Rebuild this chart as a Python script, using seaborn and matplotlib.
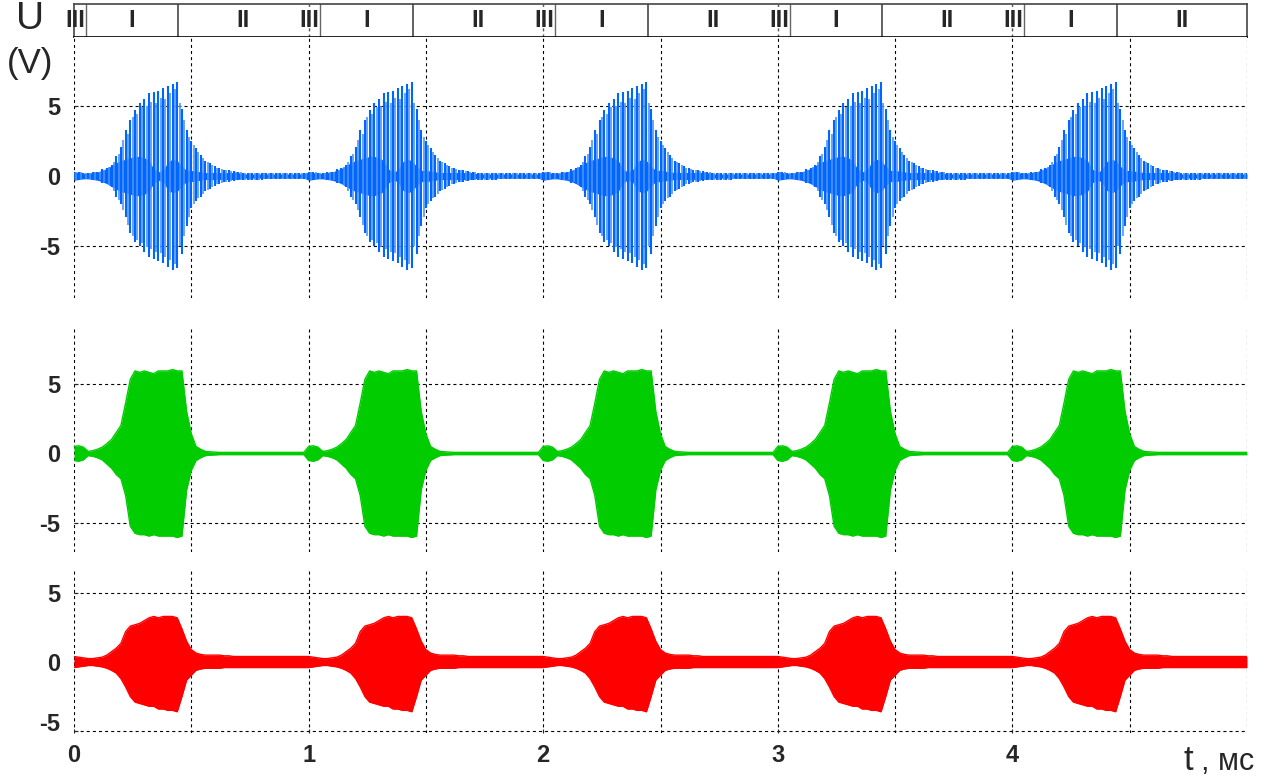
import numpy as np
import matplotlib
matplotlib.use("Agg")
import matplotlib.pyplot as plt
import matplotlib.transforms as mtrans
import seaborn as sns

step_ms = 0.02
burst_starts = [0, 1, 2, 3, 4]

blue_hi = [0.3, 0.3, 0.2, 0.2, 0.3, 0.3, 0.5, 0.55, 0.8, 1.4,
           2.1, 3.3, 4.0, 4.7, 5.2, 5.5, 5.9, 6.0, 6.1, 6.3,
           6.4, 6.6, 6.7, 4.8, 3.3, 2.5, 2.0, 1.5, 1.1, 0.9,
           0.7, 0.55, 0.45, 0.4, 0.35, 0.3, 0.25, 0.25, 0.25, 0.25,
           0.25, 0.2, 0.2, 0.2, 0.2, 0.2, 0.2, 0.2, 0.2, 0.2]
blue_lo = [0.3, 0.3, 0.2, 0.2, 0.3, 0.3, 0.5, 0.5, 0.8, 1.5,
           2.0, 2.9, 4.1, 4.7, 5.0, 5.4, 5.8, 5.9, 6.1, 6.2,
           6.5, 6.7, 6.6, 5.6, 3.6, 2.3, 1.8, 1.5, 1.1, 0.9,
           0.7, 0.55, 0.45, 0.4, 0.35, 0.3, 0.25, 0.25, 0.25, 0.25,
           0.25, 0.2, 0.2, 0.2, 0.2, 0.2, 0.2, 0.2, 0.2, 0.2]
# the fainter spikes that sit between the sampled ones (0.01 ms later)
blue_mid_hi = [0.3, 0.3, 0.2, 0.2, 0.3, 0.3, 0.45, 0.65, 1.0, 1.6,
               2.6, 3.0, 4.2, 4.4, 4.9, 5.0, 5.3, 5.2, 5.6, 5.5,
               5.9, 6.2, 5.2, 4.0, 2.8, 2.2, 1.7, 1.3, 1.0, 0.8,
               0.6, 0.5, 0.4, 0.35, 0.3, 0.3, 0.25, 0.25, 0.25, 0.25,
               0.2, 0.2, 0.2, 0.2, 0.2, 0.2, 0.2, 0.2, 0.2, 0.2]
blue_mid_lo = [0.3, 0.3, 0.2, 0.2, 0.3, 0.3, 0.45, 0.65, 1.1, 1.7,
               2.4, 3.5, 4.3, 4.6, 4.8, 5.1, 5.2, 5.4, 5.5, 5.8,
               6.0, 6.3, 5.0, 4.3, 2.9, 2.0, 1.6, 1.3, 1.0, 0.8,
               0.6, 0.5, 0.4, 0.35, 0.3, 0.3, 0.25, 0.25, 0.25, 0.25,
               0.2, 0.2, 0.2, 0.2, 0.2, 0.2, 0.2, 0.2, 0.2, 0.2]
blue_core = [0.3, 0.25, 0.2, 0.2, 0.25, 0.3, 0.4, 0.55, 0.75, 0.95,
             1.1, 1.2, 1.3, 1.4, 1.4, 1.3, 1.1, 0.5, 0.3, 0.4,
             1.0, 1.2, 1.1, 0.7, 0.4, 0.4, 0.35, 0.3, 0.25, 0.25,
             0.25, 0.25, 0.25, 0.25, 0.25, 0.25, 0.15, 0.15, 0.15, 0.15,
             0.15, 0.15, 0.15, 0.15, 0.15, 0.15, 0.15, 0.15, 0.15, 0.15]

green_hi = [0.5, 0.55, 0.45, 0.15, 0.2, 0.3, 0.45, 0.7, 1.0, 1.5,
            2.0, 3.6, 5.3, 5.9, 5.8, 5.9, 5.8, 5.7, 5.9, 5.9,
            5.9, 6.0, 5.9, 5.9, 3.0, 1.4, 0.5, 0.3, 0.15, 0.12,
            0.1, 0.08, 0.08, 0.08, 0.08, 0.08, 0.08, 0.08, 0.08, 0.08,
            0.08, 0.08, 0.08, 0.08, 0.08, 0.08, 0.08, 0.08, 0.08, 0.08]
green_lo = [0.5, 0.55, 0.45, 0.15, 0.2, 0.3, 0.45, 0.75, 1.05, 1.5,
            1.8, 3.0, 5.2, 5.7, 5.8, 5.8, 5.9, 5.8, 5.9, 5.9,
            5.9, 5.9, 6.0, 5.9, 2.6, 1.2, 0.5, 0.3, 0.15, 0.12,
            0.1, 0.08, 0.08, 0.08, 0.08, 0.08, 0.08, 0.08, 0.08, 0.08,
            0.08, 0.08, 0.08, 0.08, 0.08, 0.08, 0.08, 0.08, 0.08, 0.08]

red_hi = [0.4, 0.35, 0.3, 0.25, 0.25, 0.3, 0.35, 0.5, 0.75, 1.0,
          1.35, 2.2, 2.6, 2.7, 2.8, 3.0, 3.2, 3.3, 3.2, 3.3,
          3.3, 3.3, 3.2, 2.4, 1.5, 0.9, 0.65, 0.55, 0.5, 0.5,
          0.5, 0.5, 0.45, 0.45, 0.4, 0.4, 0.4, 0.4, 0.4, 0.4,
          0.4, 0.4, 0.4, 0.4, 0.4, 0.4, 0.4, 0.4, 0.4, 0.4]
red_lo = [0.4, 0.35, 0.3, 0.25, 0.25, 0.3, 0.35, 0.45, 0.6, 0.8,
          1.2, 1.8, 2.5, 2.9, 3.0, 3.1, 3.2, 3.2, 3.4, 3.4,
          3.5, 3.5, 3.6, 2.5, 1.3, 0.95, 0.6, 0.5, 0.45, 0.45,
          0.45, 0.45, 0.4, 0.4, 0.4, 0.4, 0.4, 0.4, 0.4, 0.4,
          0.4, 0.4, 0.4, 0.4, 0.4, 0.4, 0.4, 0.4, 0.4, 0.4]

# phase boundaries inside one period (ms) and their labels
phase_bounds = [0.0, 0.05, 0.445, 1.0]
phase_names = ["III", "I", "II"]

x_ticks = [0, 1, 2, 3, 4]
y_ticks = [-5, 0, 5]

sns.set_style("white")
plt.rcParams["font.family"] = ["Liberation Sans", "DejaVu Sans"]
plt.rcParams["lines.scale_dashes"] = False

BLUE = "#0066ff"
LIGHT_BLUE = "#4d94ff"
GREEN = "#00cc00"
RED = "#ff0000"
DASH = (0, (2.2, 2.2))

t_one = np.arange(len(blue_hi)) * step_ms


def tile(vals, shift=0.0):
    t = np.concatenate([s + shift + t_one for s in burst_starts] + [[5.0]])
    v = np.concatenate([np.asarray(vals, float)] * len(burst_starts) + [[vals[-1]]])
    return t, v


W, H = 1276, 778
fig = plt.figure(figsize=(W / 100, H / 100), dpi=100)


def px_axes(top, bottom):
    return fig.add_axes([74 / W, 1 - bottom / H, 1173 / W, (bottom - top) / H])


strip = px_axes(4, 37)
ax1 = px_axes(37, 298)
ax2 = px_axes(327, 552)
ax3 = px_axes(568, 733)

ax1.set_ylim(-8.71, 9.93)
ax2.set_ylim(-7.04, 9.04)
ax3.set_ylim(-5.14, 6.81)

for ax in (ax1, ax2, ax3):
    ax.set_xlim(0, 5)
    for s in ax.spines.values():
        s.set_visible(False)
    for y in y_ticks:
        ax.axhline(y, color="k", lw=0.8, ls=DASH, zorder=0)
    for x in np.arange(0, 5.01, 0.5):
        ax.axvline(x, color="k", lw=0.8, ls=DASH, zorder=0)
    ax.set_yticks(y_ticks)
    ax.set_yticklabels([str(v) for v in y_ticks], fontsize=17, fontweight="bold")
    ax.tick_params(axis="y", direction="in", length=3, width=0.8, pad=10, left=True)
    ax.set_xticks([])
    ax.grid(False)

# blue channel: spikes over a dense core
t, hi = tile(blue_hi)
_, lo = tile(blue_lo)
_, core = tile(blue_core)
tm, mhi = tile(blue_mid_hi, 0.01)
_, mlo = tile(blue_mid_lo, 0.01)
ax1.fill_between(t, -core, core, color=BLUE, lw=0, zorder=2)
ax1.vlines(tm[:-1], -mlo[:-1], mhi[:-1], color=LIGHT_BLUE, lw=1.2, zorder=3)
ax1.vlines(t, -lo, hi, color=BLUE, lw=1.5, zorder=4)

# green and red channels: filled envelopes
for ax, hi_vals, lo_vals, col in ((ax2, green_hi, green_lo, GREEN), (ax3, red_hi, red_lo, RED)):
    t, hi = tile(hi_vals)
    _, lo = tile(lo_vals)
    ax.fill_between(t, -lo, hi, color=col, lw=0, zorder=2)
    sns.lineplot(x=t, y=hi, ax=ax, color=col, lw=1.0, estimator=None, sort=False, zorder=3)
    sns.lineplot(x=t, y=-lo, ax=ax, color=col, lw=1.0, estimator=None, sort=False, zorder=3)

for ax in (ax1, ax2, ax3):
    ax.set_ylabel("")

# x axis on the bottom panel
ax3.set_xticks(x_ticks)
ax3.set_xticklabels([str(v) for v in x_ticks], fontsize=17, fontweight="bold")
ax3.tick_params(axis="x", direction="in", length=3, width=0.8, pad=8, bottom=True)
lab = ax3.get_yticklabels()[0]
lab.set_transform(lab.get_transform() + mtrans.ScaledTranslation(0, 9 / 100, fig.dpi_scale_trans))

# phase strip on top
strip.set_xlim(0, 5)
strip.set_ylim(0, 1)
strip.set_xticks([])
strip.set_yticks([])
for s in strip.spines.values():
    s.set_color("#444444")
    s.set_linewidth(1.2)
strip.spines["bottom"].set_color("black")
for k in burst_starts:
    if k > 0:
        strip.axvline(k + phase_bounds[0], color="#555555", lw=1.0, ls=DASH)
    strip.axvline(k + phase_bounds[1], color="#666666", lw=1.0)
    strip.axvline(k + phase_bounds[2], color="#555555", lw=1.3)
    for a, b, name in zip(phase_bounds[:-1], phase_bounds[1:], phase_names):
        strip.text(k + (a + b) / 2 - (0.02 if name == "III" else 0), 0.5, name,
                   ha="center", va="center", fontsize=17, fontweight="bold")

fig.text(30 / W, 1 - 19 / H, "U", ha="center", va="center", fontsize=28)
fig.text(30 / W, 1 - 64 / H, "(V)", ha="center", va="center", fontsize=25)
fig.text(1183 / W, 1 - 770 / H, "t", ha="left", va="baseline", fontsize=25)
fig.text(1201 / W, 1 - 770 / H, ", мс", ha="left", va="baseline", fontsize=22)

fig.savefig("out.png", dpi=100)
